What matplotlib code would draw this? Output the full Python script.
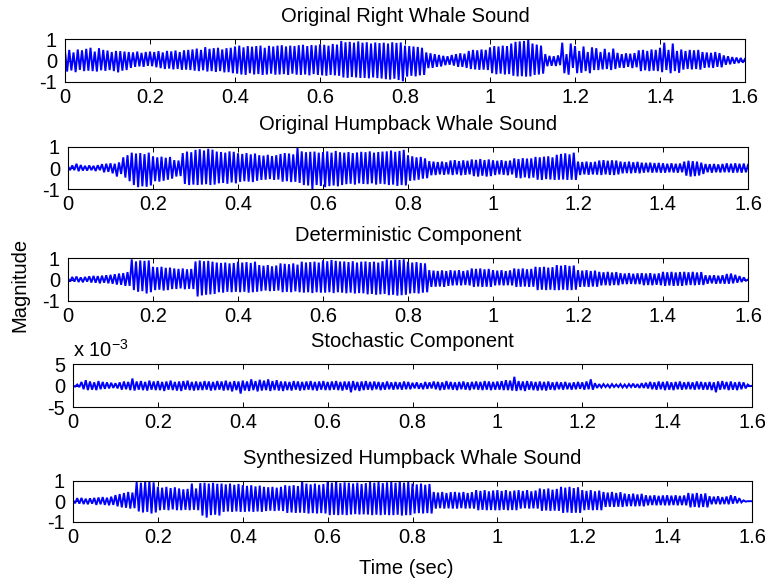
import numpy as np
import matplotlib
matplotlib.use("Agg")
import matplotlib.pyplot as plt
from matplotlib.transforms import offset_copy

plt.rcParams['font.family'] = ['Liberation Sans', 'DejaVu Sans']
plt.rcParams['mathtext.fontset'] = 'custom'
plt.rcParams['mathtext.rm'] = 'Liberation Sans'

# Successive waveform peaks (alternating crest / trough), one every 5 ms
SAMPLE_STEP = 0.005

right_whale = [
    0.45, -0.52, 0.5, -0.47, 0.38, -0.55, 0.52, -0.44, 0.48, -0.5, 0.55, -0.48, 0.6, -0.5, 0.42, -0.52, 0.58, -0.46, 0.5, -0.49,
    0.47, -0.45, 0.4, -0.5, 0.45, -0.56, 0.44, -0.48, 0.42, -0.45, 0.4, -0.35, 0.38, -0.3, 0.42, -0.28, 0.36, -0.3, 0.4, -0.25,
    0.42, -0.27, 0.4, -0.32, 0.44, -0.36, 0.38, -0.4, 0.45, -0.38, 0.43, -0.42, 0.47, -0.4, 0.4, -0.44, 0.48, -0.43, 0.5, -0.45,
    0.52, -0.48, 0.56, -0.5, 0.5, -0.46, 0.63, -0.52, 0.55, -0.5, 0.58, -0.54, 0.6, -0.5, 0.52, -0.56, 0.58, -0.55, 0.6, -0.6,
    0.66, -0.62, 0.7, -0.66, 0.62, -0.68, 0.68, -0.6, 0.65, -0.66, 0.68, -0.64, 0.7, -0.68, 0.6, -0.66, 0.69, -0.62, 0.66, -0.67,
    0.7, -0.66, 0.72, -0.64, 0.66, -0.68, 0.7, -0.62, 0.68, -0.67, 0.72, -0.68, 0.74, -0.66, 0.68, -0.7, 0.73, -0.64, 0.71, -0.68,
    0.76, -0.7, 0.74, -0.72, 0.7, -0.68, 0.78, -0.7, 0.75, -0.72, 0.92, -0.8, 0.86, -0.82, 0.88, -0.78, 0.84, -0.8, 0.9, -0.82,
    0.84, -0.82, 0.86, -0.84, 0.8, -0.8, 0.85, -0.83, 0.82, -0.85, 0.84, -0.88, 0.8, -0.9, 0.86, -0.86, 0.83, -0.92, 0.85, -0.98,
    0.7, -0.76, 0.68, -0.72, 0.66, -0.75, 0.64, -0.7, 0.6, -0.68, 0.38, -0.36, 0.34, -0.35, 0.3, -0.3, 0.26, -0.28, 0.22, -0.22,
    0.2, -0.2, 0.26, -0.24, 0.3, -0.3, 0.34, -0.3, 0.32, -0.35, 0.45, -0.4, 0.5, -0.42, 0.48, -0.44, 0.52, -0.43, 0.5, -0.45,
    0.62, -0.6, 0.68, -0.65, 0.66, -0.62, 0.7, -0.66, 0.68, -0.64, 0.8, -0.72, 0.88, -0.75, 0.9, -0.74, 0.92, -0.76, 1.0, -0.75,
    0.8, -0.68, 0.75, -0.66, 0.7, -0.62, 0.3, -0.27, 0.22, -0.25, 0.2, -0.26, 0.24, -0.22, 0.84, -0.6, 0.3, -0.67, 0.8, -0.35,
    0.68, -0.6, 0.45, -0.58, 0.66, -0.5, 0.4, -0.6, 0.62, -0.45, 0.58, -0.45, 0.4, -0.42, 0.55, -0.4, 0.38, -0.45, 0.56, -0.4,
    0.36, -0.34, 0.3, -0.35, 0.34, -0.3, 0.32, -0.36, 0.35, -0.32, 0.48, -0.5, 0.5, -0.46, 0.45, -0.5, 0.52, -0.48, 0.5, -0.5,
    0.6, -0.55, 0.84, -0.45, 0.5, -0.6, 0.8, -0.5, 0.45, -0.58, 0.52, -0.43, 0.45, -0.4, 0.5, -0.42, 0.48, -0.4, 0.5, -0.43,
    0.4, -0.35, 0.38, -0.33, 0.36, -0.35, 0.4, -0.3, 0.35, -0.32, 0.24, -0.2, 0.2, -0.18, 0.16, -0.15, 0.14, -0.12, 0.12, -0.1,
    0.08,
]

humpback = [
    0.08, -0.1, 0.12, -0.1, 0.2, -0.15, 0.14, -0.12, 0.1, -0.12, 0.12, -0.1, 0.1, -0.14, 0.13, -0.1, 0.18, -0.2, 0.2, -0.18,
    0.22, -0.25, 0.2, -0.4, 0.26, -0.28, 0.5, -0.45, 0.6, -0.62, 0.72, -0.8, 0.68, -0.9, 0.7, -0.86, 0.65, -0.88, 0.72, -0.82,
    0.55, -0.62, 0.5, -0.64, 0.53, -0.6, 0.48, -0.55, 0.52, -0.5, 0.37, -0.4, 0.35, -0.38, 0.7, -0.75, 0.77, -0.8, 0.74, -0.78,
    0.85, -0.8, 0.88, -0.78, 0.82, -0.76, 0.9, -0.8, 0.86, -0.78, 0.77, -0.72, 0.75, -0.7, 0.72, -0.74, 0.78, -0.68, 0.76, -0.72,
    0.69, -0.65, 0.66, -0.62, 0.7, -0.64, 0.64, -0.66, 0.68, -0.6, 0.6, -0.56, 0.58, -0.55, 0.62, -0.52, 0.56, -0.56, 0.6, -0.54,
    0.66, -0.64, 0.7, -0.62, 0.68, -0.66, 0.64, -0.65, 0.95, -0.7, 0.78, -0.8, 0.74, -0.82, 0.76, -1.0, 0.77, -0.8, 0.72, -0.84,
    0.75, -0.9, 0.78, -0.85, 0.72, -0.82, 0.8, -0.86, 0.74, -0.8, 0.72, -0.76, 0.75, -0.74, 0.7, -0.78, 0.73, -0.72, 0.76, -0.75,
    0.74, -0.76, 0.78, -0.72, 0.72, -0.78, 0.75, -0.74, 0.77, -0.76, 0.78, -0.8, 0.82, -0.78, 0.76, -0.84, 0.8, -0.8, 0.85, -0.82,
    0.6, -0.6, 0.55, -0.58, 0.5, -0.55, 0.52, -0.5, 0.45, -0.48, 0.32, -0.34, 0.3, -0.33, 0.28, -0.3, 0.3, -0.32, 0.27, -0.3,
    0.35, -0.33, 0.37, -0.3, 0.32, -0.34, 0.36, -0.32, 0.34, -0.3, 0.4, -0.38, 0.38, -0.4, 0.42, -0.36, 0.37, -0.4, 0.4, -0.38,
    0.36, -0.33, 0.34, -0.3, 0.37, -0.32, 0.33, -0.34, 0.35, -0.3, 0.45, -0.46, 0.42, -0.48, 0.46, -0.44, 0.44, -0.48, 0.45, -0.45,
    0.52, -0.55, 0.5, -0.56, 0.53, -0.52, 0.55, -0.54, 0.5, -0.56, 0.62, -0.55, 0.66, -0.54, 0.69, -0.56, 0.64, -0.55, 0.72, -0.56,
    0.3, -0.33, 0.28, -0.3, 0.3, -0.32, 0.27, -0.3, 0.29, -0.31, 0.35, -0.33, 0.37, -0.3, 0.34, -0.32, 0.36, -0.33, 0.35, -0.3,
    0.3, -0.25, 0.28, -0.24, 0.3, -0.25, 0.27, -0.23, 0.29, -0.25, 0.25, -0.22, 0.24, -0.2, 0.25, -0.22, 0.23, -0.21, 0.24, -0.22,
    0.22, -0.22, 0.2, -0.2, 0.22, -0.21, 0.2, -0.22, 0.21, -0.2, 0.3, -0.36, 0.34, -0.4, 0.32, -0.38, 0.3, -0.35, 0.25, -0.28,
    0.19, -0.2, 0.18, -0.22, 0.19, -0.2, 0.17, -0.21, 0.19, -0.2, 0.22, -0.2, 0.2, -0.22, 0.22, -0.21, 0.2, -0.22, 0.21, -0.2,
    0.15,
]

deterministic = [
    0.05, -0.1, 0.12, -0.1, 0.14, -0.12, 0.1, -0.13, 0.12, -0.1, 0.15, -0.14, 0.17, -0.15, 0.16, -0.18, 0.18, -0.15, 0.2, -0.18,
    0.22, -0.2, 0.25, -0.24, 0.28, -0.25, 0.3, -0.3, 0.35, -0.3, 0.95, -0.5, 0.85, -0.58, 0.9, -0.55, 0.88, -0.66, 0.9, -0.6,
    0.6, -0.5, 0.58, -0.48, 0.6, -0.52, 0.55, -0.5, 0.56, -0.45, 0.52, -0.45, 0.5, -0.42, 0.52, -0.46, 0.48, -0.44, 0.5, -0.45,
    0.85, -0.8, 0.9, -0.75, 0.86, -0.72, 0.88, -0.7, 0.84, -0.68, 0.8, -0.6, 0.78, -0.62, 0.8, -0.58, 0.76, -0.6, 0.78, -0.58,
    0.84, -0.6, 0.8, -0.58, 0.82, -0.62, 0.78, -0.6, 0.84, -0.58, 0.68, -0.55, 0.65, -0.52, 0.68, -0.55, 0.62, -0.54, 0.66, -0.52,
    0.76, -0.6, 0.74, -0.58, 0.72, -0.6, 0.76, -0.56, 0.7, -0.6, 0.84, -0.62, 0.8, -0.6, 0.82, -0.64, 0.84, -0.6, 0.8, -0.62,
    0.9, -0.62, 0.86, -0.6, 0.92, -0.64, 0.88, -0.6, 0.85, -0.62, 0.85, -0.65, 0.82, -0.62, 0.86, -0.66, 0.8, -0.64, 0.84, -0.65,
    0.85, -0.7, 0.82, -0.68, 0.84, -0.72, 0.8, -0.7, 0.86, -0.68, 0.95, -0.74, 0.9, -0.72, 0.94, -0.76, 0.92, -0.74, 0.95, -0.72,
    0.84, -0.66, 0.8, -0.64, 0.82, -0.66, 0.78, -0.62, 0.76, -0.6, 0.44, -0.35, 0.42, -0.34, 0.4, -0.33, 0.43, -0.35, 0.4, -0.3,
    0.44, -0.28, 0.42, -0.27, 0.44, -0.28, 0.4, -0.26, 0.43, -0.28, 0.52, -0.35, 0.5, -0.33, 0.52, -0.35, 0.48, -0.34, 0.5, -0.35,
    0.44, -0.28, 0.42, -0.27, 0.44, -0.28, 0.4, -0.27, 0.43, -0.28, 0.52, -0.35, 0.5, -0.34, 0.52, -0.33, 0.48, -0.35, 0.5, -0.34,
    0.6, -0.5, 0.58, -0.48, 0.6, -0.5, 0.56, -0.48, 0.58, -0.5, 0.68, -0.5, 0.65, -0.48, 0.68, -0.5, 0.64, -0.5, 0.66, -0.48,
    0.44, -0.35, 0.42, -0.34, 0.44, -0.35, 0.4, -0.33, 0.42, -0.34, 0.36, -0.28, 0.34, -0.27, 0.36, -0.28, 0.33, -0.26, 0.35, -0.27,
    0.3, -0.22, 0.28, -0.22, 0.3, -0.21, 0.27, -0.22, 0.29, -0.22, 0.3, -0.27, 0.28, -0.26, 0.3, -0.27, 0.27, -0.25, 0.29, -0.27,
    0.36, -0.3, 0.34, -0.28, 0.36, -0.3, 0.33, -0.29, 0.35, -0.3, 0.36, -0.27, 0.34, -0.26, 0.36, -0.27, 0.33, -0.25, 0.35, -0.26,
    0.2, -0.2, 0.19, -0.18, 0.2, -0.2, 0.18, -0.19, 0.2, -0.2, 0.26, -0.2, 0.28, -0.18, 0.22, -0.15, 0.16, -0.12, 0.1, -0.06,
    0.0,
]

# Stochastic residual, in units of 1e-3
stochastic_milli = [
    0.1, -0.2, 0.3, -0.3, 0.9, -0.8, 1.3, -1.0, 1.0, -0.9, 0.8, -1.0, 1.1, -0.8, 0.9, -0.7, 0.8, -0.6, 0.7, -0.5,
    0.6, -0.6, 0.8, -0.9, 1.0, -0.8, 0.9, -1.0, 1.7, -1.1, 1.0, -0.9, 1.1, -1.0, 0.9, -1.1, 1.2, -0.9, 1.0, -1.0,
    1.1, -1.0, 0.9, -1.2, 1.0, -0.9, 1.2, -1.0, 0.9, -1.1, 1.0, -1.2, 1.1, -0.9, 1.2, -1.0, 0.9, -1.1, 1.0, -1.0,
    0.9, -1.0, 1.1, -0.9, 1.0, -1.1, 0.9, -1.0, 1.1, -0.9, 1.0, -1.1, 1.2, -1.0, 0.9, -1.3, 1.1, -1.0, 1.0, -1.8,
    1.2, -1.1, 1.0, -1.2, 1.5, -1.0, 1.1, -1.3, 1.4, -1.1, 1.2, -1.0, 1.5, -1.2, 1.1, -1.0, 1.3, -1.1, 1.0, -1.2,
    1.0, -1.0, 0.9, -1.1, 1.1, -0.9, 1.0, -1.1, 0.9, -1.0, 1.0, -0.9, 1.1, -1.0, 0.9, -1.1, 1.0, -0.9, 1.1, -1.0,
    0.9, -1.0, 1.0, -0.9, 1.1, -1.0, 0.9, -1.1, 1.0, -0.9, 1.0, -1.5, 1.1, -1.0, 0.9, -1.2, 1.0, -1.0, 1.1, -0.9,
    0.9, -1.0, 1.0, -0.8, 0.9, -1.0, 0.8, -0.9, 1.0, -0.8, 0.8, -0.9, 0.9, -0.8, 0.8, -0.9, 1.0, -0.8, 0.9, -0.8,
    0.7, -0.6, 0.8, -0.7, 0.6, -0.8, 0.9, -0.7, 0.8, -0.6, 1.0, -0.8, 0.9, -1.0, 0.8, -0.9, 1.1, -0.8, 0.9, -0.9,
    0.8, -1.0, 0.9, -0.8, 1.0, -0.9, 0.8, -1.0, 0.9, -0.8, 1.0, -0.9, 0.9, -1.0, 1.1, -0.9, 1.0, -1.0, 0.9, -0.9,
    1.0, -0.9, 1.1, -1.0, 1.3, -1.0, 1.2, -1.1, 2.1, -1.2, 1.1, -1.0, 1.0, -1.2, 1.1, -0.9, 1.0, -1.0, 0.9, -1.1,
    1.0, -1.0, 0.9, -1.1, 1.0, -0.9, 0.8, -1.0, 0.9, -0.8, 0.8, -0.9, 0.9, -0.8, 0.7, -0.9, 0.8, -0.8, 0.9, -0.7,
    0.8, -0.9, 1.0, -0.8, 1.5, -0.9, 0.6, -0.5, 0.4, -0.4, 0.4, -0.3, 0.3, -0.4, 0.4, -0.3, 0.3, -0.3, 0.4, -0.4,
    0.3, -0.4, 0.4, -0.3, 0.5, -0.4, 0.4, -0.5, 0.6, -0.5, 0.7, -0.6, 0.9, -0.8, 0.8, -0.9, 1.0, -0.8, 0.9, -1.0,
    1.0, -0.9, 0.8, -1.0, 0.9, -0.8, 1.0, -0.9, 0.8, -0.8, 0.9, -0.8, 0.8, -0.9, 1.0, -0.8, 0.9, -0.9, 0.8, -0.9,
    0.9, -1.0, 0.8, -1.5, 1.0, -0.9, 1.1, -0.8, 0.9, -1.0, 1.0, -0.9, 0.8, -1.0, 0.9, -0.8, 0.8, -0.6, 0.3, -0.1,
    0.0,
]

synthesized = [
    0.05, -0.1, 0.15, -0.12, 0.16, -0.14, 0.12, -0.15, 0.14, -0.12, 0.16, -0.18, 0.18, -0.15, 0.2, -0.18, 0.17, -0.2, 0.22, -0.18,
    0.3, -0.25, 0.35, -0.3, 0.4, -0.32, 0.45, -0.36, 0.42, -0.34, 0.94, -0.5, 0.9, -0.55, 0.95, -0.52, 1.0, -0.6, 0.92, -0.55,
    0.7, -0.44, 0.66, -0.42, 0.7, -0.44, 0.64, -0.4, 0.68, -0.44, 0.62, -0.44, 0.58, -0.42, 0.6, -0.44, 0.86, -0.42, 0.62, -0.44,
    0.88, -0.7, 0.9, -0.8, 0.86, -0.68, 0.9, -0.66, 0.85, -0.7, 0.86, -0.52, 0.82, -0.5, 0.86, -0.52, 0.8, -0.5, 0.84, -0.52,
    0.78, -0.52, 0.75, -0.5, 0.78, -0.52, 0.72, -0.5, 0.76, -0.52, 0.7, -0.48, 0.68, -0.46, 0.7, -0.48, 0.66, -0.46, 0.7, -0.48,
    0.78, -0.57, 0.75, -0.55, 0.78, -0.57, 0.74, -0.56, 1.0, -0.57, 0.86, -0.6, 0.82, -0.58, 0.86, -0.6, 0.8, -0.58, 0.84, -0.6,
    0.94, -0.68, 0.9, -0.66, 1.0, -0.68, 0.88, -0.66, 0.92, -0.68, 0.9, -0.65, 0.86, -0.63, 0.9, -0.65, 0.84, -0.64, 0.88, -0.65,
    0.94, -0.68, 0.9, -0.66, 0.94, -0.68, 0.88, -0.66, 0.92, -0.68, 0.94, -0.68, 0.9, -0.66, 1.0, -0.7, 0.9, -0.68, 0.94, -0.68,
    0.86, -0.6, 0.82, -0.58, 0.86, -0.6, 0.8, -0.58, 0.84, -0.6, 0.45, -0.36, 0.42, -0.34, 0.45, -0.36, 0.4, -0.35, 0.44, -0.36,
    0.45, -0.36, 0.42, -0.34, 0.45, -0.36, 0.4, -0.35, 0.44, -0.36, 0.54, -0.44, 0.5, -0.42, 0.54, -0.44, 0.48, -0.43, 0.52, -0.44,
    0.54, -0.44, 0.5, -0.42, 0.54, -0.44, 0.48, -0.43, 0.52, -0.44, 0.54, -0.36, 0.5, -0.34, 0.54, -0.36, 0.48, -0.35, 0.52, -0.36,
    0.62, -0.47, 0.58, -0.45, 0.62, -0.47, 0.56, -0.46, 0.6, -0.47, 0.7, -0.57, 0.66, -0.55, 0.7, -0.57, 0.64, -0.56, 0.68, -0.57,
    0.54, -0.44, 0.5, -0.42, 0.54, -0.44, 0.48, -0.43, 0.52, -0.44, 0.45, -0.28, 0.42, -0.27, 0.45, -0.28, 0.4, -0.27, 0.44, -0.28,
    0.37, -0.25, 0.34, -0.24, 0.37, -0.25, 0.33, -0.24, 0.36, -0.25, 0.29, -0.2, 0.27, -0.19, 0.29, -0.2, 0.26, -0.19, 0.28, -0.2,
    0.29, -0.2, 0.27, -0.19, 0.29, -0.2, 0.26, -0.19, 0.28, -0.2, 0.4, -0.3, 0.37, -0.28, 0.4, -0.3, 0.35, -0.28, 0.38, -0.3,
    0.24, -0.15, 0.22, -0.14, 0.24, -0.15, 0.2, -0.14, 0.23, -0.15, 0.29, -0.12, 0.24, -0.1, 0.15, -0.06, 0.04, -0.02, 0.0, 0.0,
    0.0,
]

titles = [
    "Original Right Whale Sound",
    "Original Humpback Whale Sound",
    "Deterministic Component",
    "Stochastic Component",
    "Synthesized Humpback Whale Sound",
]
signals = [right_whale, humpback, deterministic, stochastic_milli, synthesized]
y_limits = [(-1, 1), (-1, 1), (-1, 1), (-5, 5), (-1, 1)]
y_tick_labels = [["-1", "0", "1"]] * 3 + [["-5", "0", "5"]] + [["-1", "0", "1"]]
x_ticks = [0, 0.2, 0.4, 0.6, 0.8, 1.0, 1.2, 1.4, 1.6]
x_tick_labels = ["0", "0.2", "0.4", "0.6", "0.8", "1", "1.2", "1.4", "1.6"]

W, H = 765, 583
# axes boxes in pixels: left, right, top, bottom
boxes = [
    (65, 745, 39.3, 81.7),
    (68, 748, 146.7, 189.3),
    (68, 748, 258.3, 300.7),
    (73, 752, 364.3, 407.3),
    (73, 752, 480.7, 521.7),
]

FS = 14.5
fig = plt.figure(figsize=(W / 100, H / 100), dpi=100)

for sig, title, ylim, ylabels, (l, r, t, b) in zip(signals, titles, y_limits, y_tick_labels, boxes):
    ax = fig.add_axes([l / W, 1 - b / H, (r - l) / W, (b - t) / H])
    y = np.asarray(sig, dtype=float)
    x = np.arange(len(y)) * SAMPLE_STEP
    ax.plot(x, y, color="blue", lw=1.4, solid_joinstyle="miter")
    ax.set_xlim(0, 1.6)
    ax.set_ylim(*ylim)
    ax.set_xticks(x_ticks, x_tick_labels)
    ax.set_yticks([ylim[0], 0, ylim[1]], ylabels)
    ax.tick_params(direction="in", length=3.6, width=0.7, top=True, right=True,
                   labelsize=FS, colors="black")
    ax.tick_params(axis="x", pad=4.3)
    ax.tick_params(axis="y", pad=5.8)
    for s in ax.spines.values():
        s.set_linewidth(0.8)
    ax.text(0.5, 1.0, title, transform=offset_copy(ax.transAxes, fig=fig, y=22.5, units="dots"),
            ha="center", va="center", fontsize=FS)
    if ylim[1] == 5:
        ax.text(0.0, 1.0, r"x 10$^{\mathregular{-3}}$",
                transform=offset_copy(ax.transAxes, fig=fig, y=14, units="dots"),
                ha="left", va="center", fontsize=FS)

fig.text(20 / W, 1 - 285 / H, "Magnitude", rotation=90, ha="center", va="center", fontsize=FS)
fig.text(406 / W, 1 - 568 / H, "Time (sec)", ha="center", va="center", fontsize=FS)

fig.savefig("out.png", dpi=100)
